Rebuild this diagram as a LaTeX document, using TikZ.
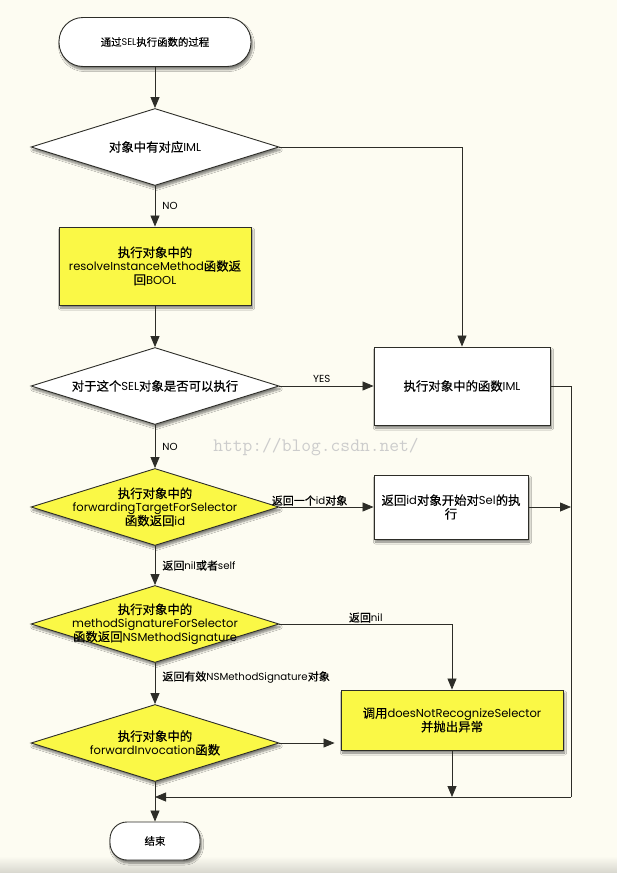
\documentclass[tikz,border=0pt]{standalone}
\usepackage{fontspec}
\setmainfont{Poppins}[Scale=0.93]
\newfontfamily\cjk{Noto Sans CJK SC}[FakeBold=0.4]
\newcommand\zh[1]{{\cjk #1}}
\usetikzlibrary{shapes.geometric,arrows.meta,shadows.blur}
\definecolor{bg}{RGB}{253,252,242}
\definecolor{yel}{RGB}{250,248,70}
\definecolor{ln}{RGB}{45,45,40}
\begin{document}
\begin{tikzpicture}[x=1pt,y=-1pt,
 every node/.style={font=\fontsize{12.4}{13.6}\selectfont, text=black},
 shad/.style={blur shadow={shadow xshift=1.5pt,shadow yshift=-3pt,shadow blur steps=6,shadow opacity=50}},
 box/.style={draw=ln, line width=0.9pt, rectangle, align=center, inner sep=2pt, shad},
 dia/.style={draw=ln, line width=0.9pt, diamond, minimum width=248pt, minimum height=77pt, inner sep=0pt, shad},
 term/.style={draw=ln, line width=0.9pt, rectangle, fill=white, shad},
 txt/.style={align=center, inner sep=0pt},
 lab/.style={inner sep=1pt, font=\fontsize{11}{12}\selectfont},
 conn/.style={draw=ln, line width=0.8pt},
 arr/.style={conn, -{Triangle[length=11pt,width=9pt]}},
]
\fill[bg] (0,0) rectangle (617,873);
\shade[top color=bg, bottom color=black!15!bg] (0,856) rectangle (617,873);
\useasboundingbox (0,0) rectangle (617,873);

\node[font=\ttfamily\fontsize{19}{19}\selectfont, text=black!20, inner sep=0pt] (wm) at (316,447) {http://blog.csdn.net/};

\node[term, minimum width=192pt, minimum height=49pt, rounded corners=24pt, font=\fontsize{10.4}{12}\selectfont] (start) at (155,42) {\zh{通过}SEL\zh{执行函数的过程}};
\node[dia, fill=white] (d1) at (155,147) {};
\node[txt] (d1t) at (d1.center) {\zh{对象中有对应}IML};
\node[box, fill=yel, minimum width=192pt, minimum height=78pt] (b1) at (155,266) {\zh{执行对象中的}\\resolveInstanceMethod\zh{函数返}\\\zh{回}BOOL};
\node[dia, fill=white] (d2) at (155,386) {};
\node[txt] (d2t) at (d2.center) {\zh{对于这个}SEL\zh{对象是否可以执行}};
\node[box, fill=white, minimum width=176pt, minimum height=78pt] (iml) at (462,386) {\zh{执行对象中的函数}IML};
\node[dia, fill=yel] (d3) at (155,507) {};
\node[txt] (d3t) at (d3.center) {\zh{执行对象中的}\\forwardingTargetForSelector\\\zh{函数返回}id};
\node[box, fill=white, minimum width=154pt, minimum height=64pt] (b3) at (451,507) {\zh{返回}id\zh{对象开始对}Sel\zh{的执}\\\zh{行}};
\node[dia, fill=yel] (d4) at (155,624) {};
\node[txt] (d4t) at (d4.center) {\zh{执行对象中的}\\methodSignatureForSelector\\\zh{函数返回}NSMethodSignature};
\node[dia, fill=yel] (d5) at (155,743) {};
\node[txt] (d5t) at (d5.center) {\zh{执行对象中的}\\forwardInvocation\zh{函数}};
\node[box, fill=yel, minimum width=222pt, minimum height=60pt] (b5) at (452,720) {\zh{调用}doesNotRecognizeSelector\\\zh{并抛出异常}};
\node[term, minimum width=90pt, minimum height=38pt, rounded corners=17pt, font=\fontsize{10.4}{12}\selectfont] (end) at (155,841) {\zh{结束}};

\coordinate (rt) at (571,386);
\coordinate (rm) at (571,507);
\coordinate (rb) at (571,797);
\coordinate (j) at (155,797);
\coordinate (k) at (452,797);

\draw[arr] (start.south) -- (d1.north);
\draw[arr] (d1.east) -| (iml.north);
\draw[arr] (d1.south) -- node[lab, right=6pt] (l1) {NO} (b1.north);
\draw[arr] (b1.south) -- (d2.north);
\draw[arr] (d2.east) -- node[lab, above=2pt, pos=0.45] (l2) {YES} (iml.west);
\draw[conn] (iml.east) -- (rt) -- (rb);
\draw[arr] (rb) -- (j);
\draw[arr] (d2.south) -- node[lab, right=6pt] (l3) {NO} (d3.north);
\draw[arr] (d3.east) -- node[lab, above=0pt, pos=0.32] (l4) {\zh{返回一个}id\zh{对象}} (b3.west);
\draw[arr] (b3.east) -- (rm);
\draw[arr] (d3.south) -- node[lab, right=6pt] (l5) {\zh{返回}nil\zh{或者}self} (d4.north);
\draw[arr] (d4.east) -| node[lab, pos=0.25, above=0pt] (l6) {\zh{返回}nil} (b5.north);
\draw[arr] (d4.south) -- node[lab, right=6pt, pos=0.35] (l7) {\zh{返回有效}NSMethodSignature\zh{对象}} (d5.north);
\draw[arr, shorten >=6pt] (d5.east) -- (d5.east -| b5.west);
\draw[arr] (b5.south) -- (k);
\draw[arr] (d5.south) -- (end.north);
\end{tikzpicture}
\end{document}
